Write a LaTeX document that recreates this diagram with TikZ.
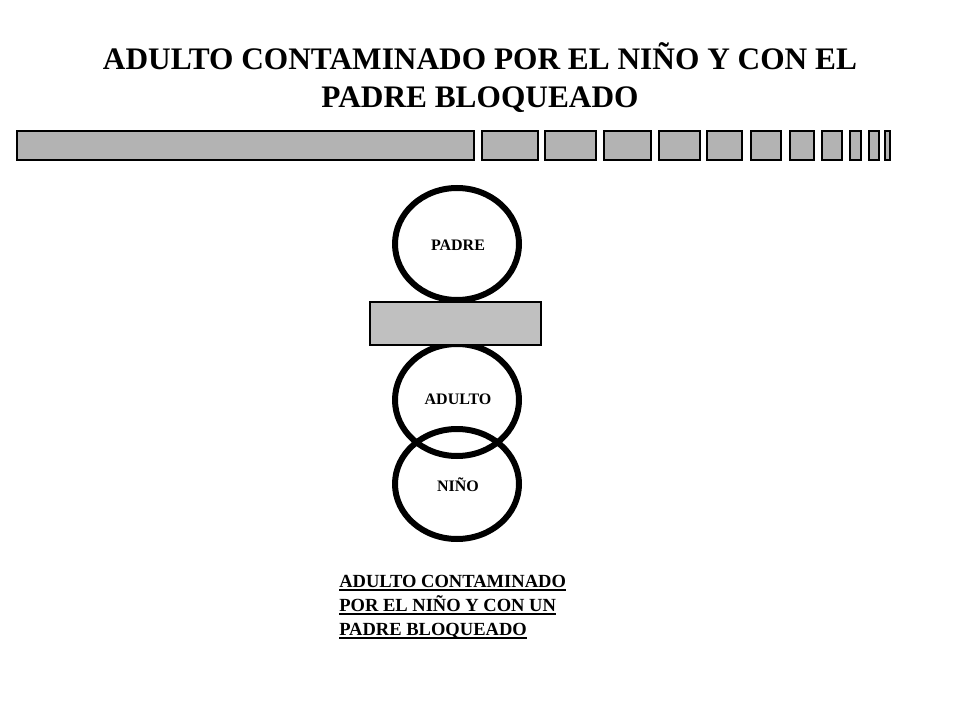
\documentclass[tikz,border=0pt]{standalone}
\usepackage{fontspec}
\setmainfont{Liberation Serif}
\begin{document}
\begin{tikzpicture}[x=0.75pt,y=-0.75pt,
  barbox/.style={draw=black,line width=1.2pt,fill=bargray},
  lbl/.style={font=\bfseries\fontsize{12}{14}\selectfont,anchor=base},
  ulline/.style={line width=1.5pt}]
\definecolor{bargray}{HTML}{B3B3B3}
\definecolor{midgray}{HTML}{C0C0C0}
\fill[white] (0,0) rectangle (960,720);
\useasboundingbox (0,0) rectangle (960,720);
% title
\node[font=\bfseries\fontsize{23.5}{29}\selectfont,anchor=base] (t1) at (480,70) {ADULTO CONTAMINADO POR EL NIÑO Y CON EL};
\node[font=\bfseries\fontsize{23.5}{29}\selectfont,anchor=base] (t2) at (480,108) {PADRE BLOQUEADO};
% bars
\foreach \a/\b [count=\i] in {17/474,482/538,545/596,604/651,659/700,707/742,751/781,790/814,822/842,850/861,869/879,885/890}{
  \draw[barbox] (\a,131) rectangle (\b,160);
}
% circles
\draw[line width=4.5pt] (457,244) ellipse (62 and 56);
\draw[line width=4.5pt] (457,400) ellipse (62 and 56);
\draw[line width=4.5pt] (457,484) ellipse (62 and 55);
\draw[draw=black,line width=0.8pt,fill=midgray] (370,302) rectangle (541,345);
\node[lbl] (padre) at (458,251) {PADRE};
\node[lbl] (adulto) at (458,404) {ADULTO};
\node[lbl] (nino) at (458,491) {NIÑO};
% bottom text
\begin{scope}[every node/.style={font=\bfseries\fontsize{13.9}{18}\selectfont,anchor=base west,inner sep=0pt}]
\node (b1) at (339,587) {ADULTO CONTAMINADO};
\node (b2) at (339,611) {POR EL NIÑO Y CON UN};
\node (b3) at (339,635) {PADRE BLOQUEADO};
\end{scope}
\foreach \n in {b1,b2,b3}{
  \draw[ulline] ([yshift=-2.4pt]\n.base west) -- ([yshift=-2.4pt]\n.base east);
}
\end{tikzpicture}
\end{document}
